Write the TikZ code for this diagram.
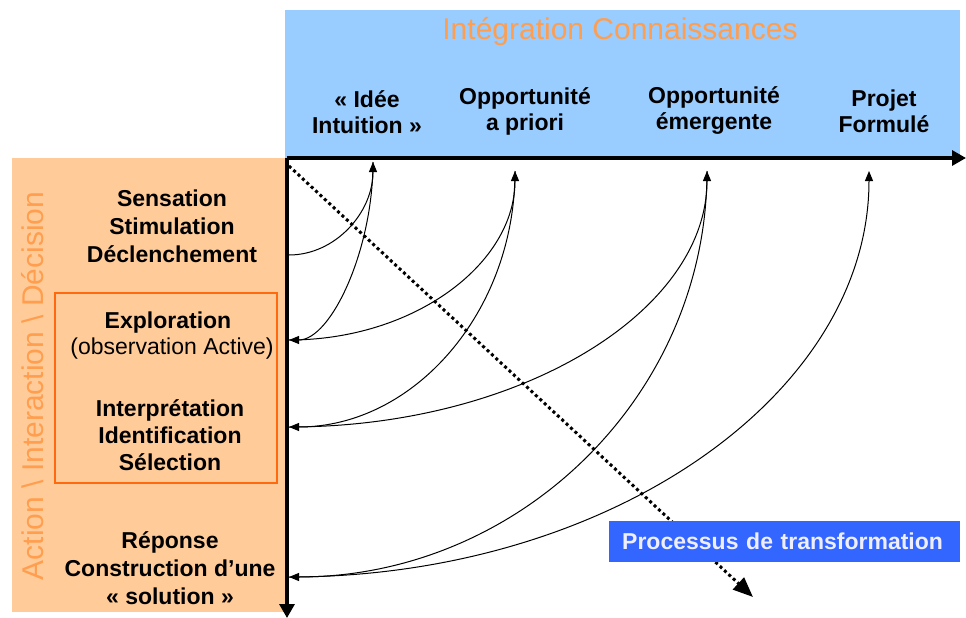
\documentclass[tikz,border=0pt]{standalone}
\usepackage{fontspec}
\setmainfont{Liberation Sans}
\usetikzlibrary{arrows.meta}
\definecolor{peach}{HTML}{FFCC99}
\definecolor{skyb}{HTML}{99CCFF}
\definecolor{orangetxt}{HTML}{FF9E4F}
\definecolor{orangeline}{HTML}{FF6A10}
\definecolor{procblue}{HTML}{3366FF}
\definecolor{proctext}{HTML}{EEEEFF}
\begin{document}
\begin{tikzpicture}[x=1pt,y=-1pt,
  lab/.style={align=center, font=\fontsize{23}{27}\selectfont\bfseries, inner sep=0pt},
  toplab/.style={align=center, font=\fontsize{23}{26}\selectfont\bfseries, inner sep=0pt},
  link/.style={line width=1pt, -{Triangle[length=10pt,width=8pt]}},
  axisline/.style={line width=3.2pt, -{Triangle[length=14pt,width=15pt]}},
  bigtitle/.style={font=\fontsize{30}{34}\selectfont, text=orangetxt, inner sep=0pt}]
\useasboundingbox (0,0) rectangle (966,618);
% backgrounds
\fill[skyb] (285,10) rectangle (960,158);
\fill[peach] (12,158) rectangle (285,612);
\draw[orangeline, line width=1.5pt] (55,293) rectangle (277,483);
% titles
\node[bigtitle] (top) at (620,32) {Intégration Connaissances};
\node[bigtitle, rotate=90] (side) at (33,386) {Action \textbackslash{} Interaction \textbackslash{} Décision};
% top labels
\node[toplab] (idee) at (367,112) {« Idée\\Intuition »};
\node[toplab] (oap) at (525,111) {Opportunité\\a priori};
\node[toplab] (oem) at (714,111) {Opportunité\\émergente};
\node[toplab] (proj) at (884,111) {Projet\\Formulé};
% left labels
\node[lab, font=\fontsize{23}{28}\selectfont\bfseries] (sens) at (172,226) {Sensation\\Stimulation\\Déclenchement};
\node[lab] (expl) at (168,323) {Exploration};
\node[lab, font=\fontsize{23}{27}\selectfont] (obs) at (172,349) {(observation Active)};
\node[lab] (interp) at (170,435) {Interprétation\\Identification\\Sélection};
\node[lab, font=\fontsize{23}{28}\selectfont\bfseries] (rep) at (170,568) {Réponse\\Construction d’une\\« solution »};
% axes
\coordinate (o) at (287,158);
\coordinate (xend) at (966,158);
\coordinate (yend) at (287,618);
\draw[axisline] (o) -- (xend);
\draw[axisline] (o) -- (yend);
% curve end points
\coordinate (s) at (289,255);
\coordinate (e) at (289,340);
\coordinate (i) at (289,427);
\coordinate (r) at (289,577);
\coordinate (t1) at (373,162);
\coordinate (t2) at (515,171);
\coordinate (t3) at (707,171);
\coordinate (t4) at (869,171);
% dotted arrow
\coordinate (dstart) at (289,166);
\coordinate (dend) at (753,597);
\draw[line width=3pt, dash pattern=on 3pt off 3pt, -{Triangle[length=20pt,width=16pt]}] (dstart) -- (dend);
% curves
\draw[link] (s) .. controls +(46,0) and +(0,51) .. (t1);
\draw[link] (t1) .. controls +(0,88) and +(42,0) .. (e);
\draw[link] (e) .. controls +(125,0) and +(0,93) .. (t2);
\draw[link] (t2) .. controls +(0,141) and +(125,0) .. (i);
\draw[link] (i) .. controls +(231,0) and +(0,141) .. (t3);
\draw[link] (t3) .. controls +(0,224) and +(231,0) .. (r);
\draw[link] (r) .. controls +(320,0) and +(0,224) .. (t4);
% process box
\node[fill=procblue, text=proctext, anchor=west, minimum height=41pt, inner xsep=13pt, inner ysep=0pt, text width=325pt, align=left, font=\fontsize{23}{26}\selectfont\bfseries] (proc) at (609,541) {Processus de transformation};
\end{tikzpicture}
\end{document}
